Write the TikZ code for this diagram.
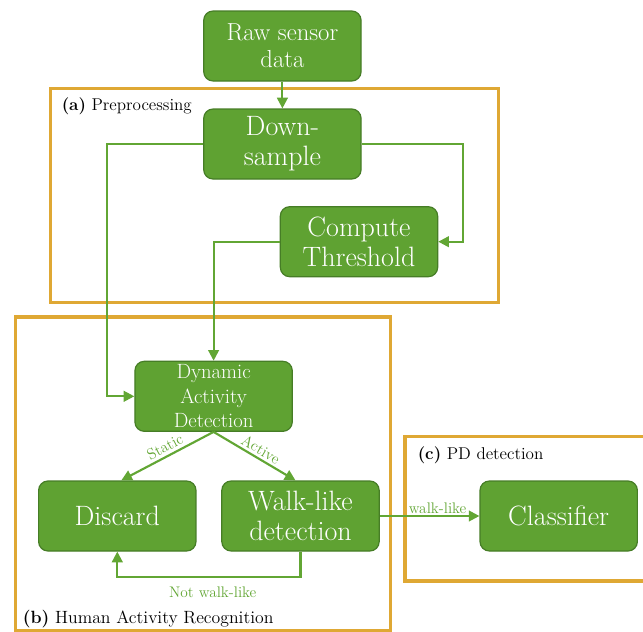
\documentclass[tikz,border=0pt]{standalone}
\usetikzlibrary{arrows.meta,calc}
\definecolor{gfill}{RGB}{95,162,50}
\definecolor{gline}{RGB}{70,125,38}
\definecolor{gedge}{RGB}{98,166,52}
\definecolor{frameor}{RGB}{223,168,52}
\tikzset{
  box/.style={draw=gline, line width=0.9pt, fill=gfill, text=white, align=center,
    rounded corners=7pt, inner sep=0pt, minimum width=118pt, minimum height=52.5pt},
  bigtxt/.style={font=\fontsize{21}{22.5}\selectfont},
  flow/.style={draw=gedge, line width=1.6pt, -{Triangle[length=8pt,width=8pt]}},
  frame/.style={draw=frameor, line width=2.4pt},
  elabel/.style={text=gedge, font=\fontsize{11.5}{13}\selectfont, inner sep=2pt},
  flabel/.style={font=\fontsize{12.8}{14}\selectfont, anchor=west, inner sep=0pt}
}
\begin{document}
\begin{tikzpicture}[x=0.75pt,y=-0.75pt]
\useasboundingbox (0,0) rectangle (643,632);
% frames
\draw[frame] (50.4,88.7) rectangle (498.6,302.7);
\draw[frame] (15.6,317) rectangle (390.4,631);
\draw[frame] (405,436.7) rectangle (660,581);
\node[flabel] (la) at (61.5,106) {\textbf{(a)} Preprocessing};
\node[flabel,font=\fontsize{13.3}{15}\selectfont] (lb) at (22.5,619) {\textbf{(b)} Human Activity Recognition};
\node[flabel] (lc) at (417.5,455.7) {\textbf{(c)} PD detection};
% nodes
\node[box, font=\fontsize{18.5}{20.5}\selectfont] (raw) at (282.4,46) {Raw sensor\\data};
\node[box, bigtxt] (down) at (282.4,144) {Down-\\sample};
\node[box, bigtxt] (ct) at (359,241.7) {Compute\\Threshold};
\node[box, font=\fontsize{15.5}{18.5}\selectfont] (dad) at (213.6,396.3) {Dynamic\\Activity\\Detection};
\node[box, bigtxt] (disc) at (117.3,516) {Discard};
\node[box, bigtxt] (walk) at (300.5,516) {Walk-like\\detection};
\node[box, bigtxt] (cls) at (558.7,516) {Classifier};
% connectors
\coordinate (c1) at (107.4,396.3);
\coordinate (c2) at (463.4,241.7);
\coordinate (c3) at (300.5,576.7);
\draw[flow] (raw.south) -- (down.north);
\draw[flow] (down.west) -| (c1) -- (dad.west);
\draw[flow] (down.east) -| (c2) -- (ct.east);
\draw[flow] (ct.west) -| (dad.north);
\draw[flow] (dad.south) -- node[elabel, sloped, above, pos=0.48] {Static} ($(disc.north)+(4,0)$);
\draw[flow] (dad.south) -- node[elabel, sloped, above, pos=0.52] {Active} ($(walk.north)+(-5,0)$);
\draw[flow] (walk.south) -- (c3) -| (disc.south);
\node[elabel] (nwl) at (212.8,592) {Not walk-like};
\draw[flow] (walk.east) -- node[elabel, above, pos=0.58, inner sep=1pt] {walk-like} (cls.west);
\end{tikzpicture}
\end{document}
